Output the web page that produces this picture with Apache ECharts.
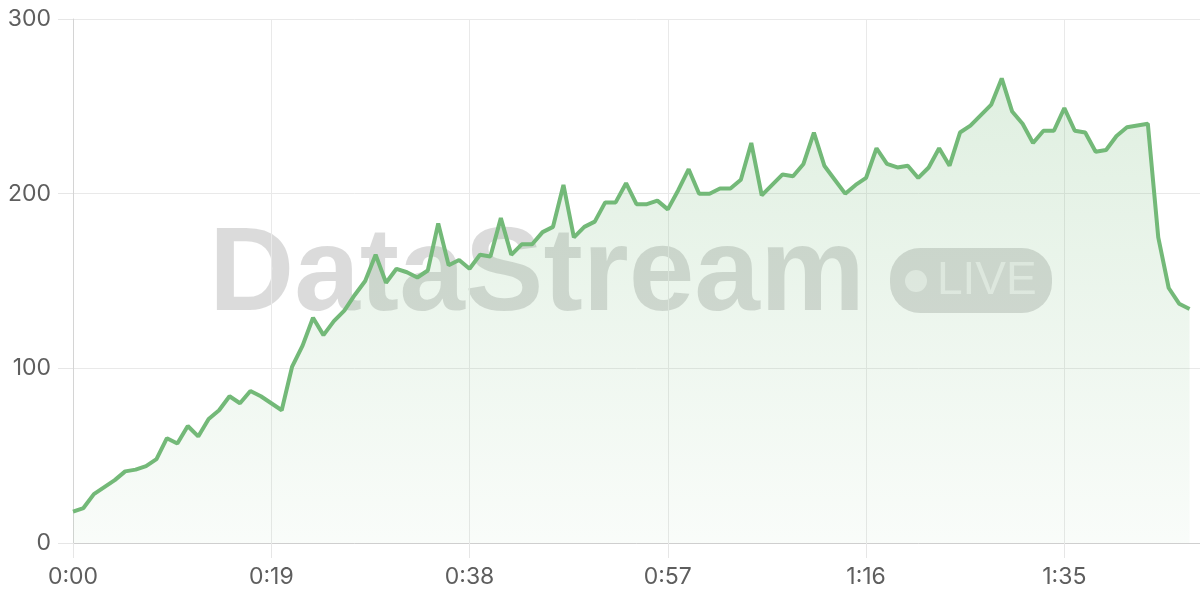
<!DOCTYPE html>
<html>
<head>
<meta charset="utf-8">
<script src="https://cdn.jsdelivr.net/npm/echarts@6/dist/echarts.min.js"></script>
<style>
  html, body { margin: 0; padding: 0; background: #ffffff; }
  #chart { width: 1200px; height: 600px; }
</style>
</head>
<body>
<div id="chart"></div>
<script>
// Elapsed seconds (one sample per second)
const seconds = [
  0,1,2,3,4,5,6,7,8,9,10,11,12,13,14,15,16,17,18,19,
  20,21,22,23,24,25,26,27,28,29,30,31,32,33,34,35,36,37,38,39,
  40,41,42,43,44,45,46,47,48,49,50,51,52,53,54,55,56,57,58,59,
  60,61,62,63,64,65,66,67,68,69,70,71,72,73,74,75,76,77,78,79,
  80,81,82,83,84,85,86,87,88,89,90,91,92,93,94,95,96,97,98,99,
  100,101,102,103,104,105,106,107
];
// Series values
const values = [
  18,20,28,32,36,41,42,44,48,60,57,67,61,71,76,84,80,87,84,80,
  76,101,113,129,119,127,133,142,150,165,149,157,155,152,156,183,159,162,157,165,
  164,186,165,171,171,178,181,205,175,181,184,195,195,206,194,194,196,191,202,214,
  200,200,203,203,208,229,199,205,211,210,217,235,216,208,200,205,209,226,217,215,
  216,209,215,226,216,235,239,245,251,266,247,240,229,236,236,249,236,235,224,225,
  233,238,239,240,175,146,137,134
];
const yTicks = [0, 100, 200, 300];

const GREEN = '#73b978';

function fmt(v) {
  const m = Math.floor(v / 60);
  const s = Math.round(v % 60);
  return m + ':' + (s < 10 ? '0' + s : s);
}

const chart = echarts.init(document.getElementById('chart'), null, { renderer: 'canvas' });
const labelFont = { fontFamily: 'Inter', fontSize: 23, color: '#5e5e5e' };

chart.setOption({
  animation: false,
  backgroundColor: '#ffffff',
  grid: { left: 73, right: 0, top: 19, bottom: 57, containLabel: false },
  graphic: [
    {
      type: 'text', z: 0, silent: true,
      style: {
        x: 209, y: 336, text: 'DataStream',
        font: 'bold 118px "Liberation Sans", Arial, sans-serif',
        fill: 'rgba(0,0,0,0.14)', textAlign: 'left', textVerticalAlign: 'bottom'
      }
    },
    {
      type: 'rect', z: 0, silent: true,
      shape: { x: 890, y: 248, width: 162, height: 65, r: 30 },
      style: { fill: 'rgba(0,0,0,0.14)' }
    },
    {
      type: 'circle', z: 0, silent: true,
      shape: { cx: 916, cy: 281, r: 11 },
      style: { fill: 'rgba(255,255,255,0.55)' }
    },
    {
      type: 'text', z: 0, silent: true,
      style: {
        x: 937, y: 281, text: 'LIVE',
        font: '500 46px "Liberation Sans", Arial, sans-serif',
        fill: 'rgba(255,255,255,0.55)', textAlign: 'left', textVerticalAlign: 'middle'
      }
    }
  ],
  xAxis: {
    type: 'value',
    min: 0,
    max: 108,
    interval: 19,
    axisLine: { show: true, lineStyle: { color: '#cfcfcf', width: 1 } },
    axisTick: { show: true, length: 15, lineStyle: { color: '#e6e6e6' } },
    axisLabel: Object.assign({ margin: 23, formatter: fmt, showMaxLabel: false }, labelFont),
    splitLine: { show: true, lineStyle: { color: '#e9e9e9', width: 1 } }
  },
  yAxis: {
    type: 'value',
    min: yTicks[0],
    max: yTicks[yTicks.length - 1],
    interval: 100,
    axisLine: { show: true, lineStyle: { color: '#d4d4d4', width: 1 } },
    axisTick: { show: true, length: 15, lineStyle: { color: '#e6e6e6' } },
    axisLabel: Object.assign({ margin: 22 }, labelFont),
    splitLine: { show: true, lineStyle: { color: '#e9e9e9', width: 1 } }
  },
  series: [{
    type: 'line',
    data: seconds.map((s, i) => [s, values[i]]),
    showSymbol: false,
    symbol: 'none',
    smooth: false,
    lineStyle: { color: GREEN, width: 4 },
    itemStyle: { color: GREEN },
    areaStyle: {
      color: new echarts.graphic.LinearGradient(0, 0, 0, 1, [
        { offset: 0, color: 'rgba(115,185,120,0.32)' },
        { offset: 1, color: 'rgba(115,185,120,0.06)' }
      ])
    },
    z: 2
  }]
});
</script>
</body>
</html>
